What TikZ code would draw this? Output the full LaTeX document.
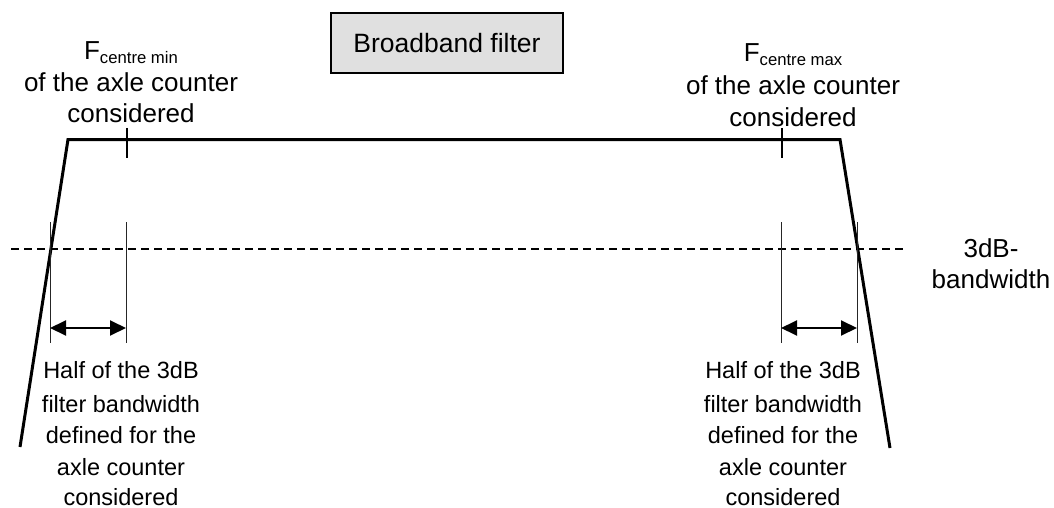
\documentclass[tikz,border=0pt]{standalone}
\usepackage{fontspec}
\setmainfont{Liberation Sans}
\usetikzlibrary{arrows.meta}
\begin{document}
\begin{tikzpicture}[x=1pt,y=-1pt,
  lbl/.style={inner sep=0pt,anchor=base,font=\fontsize{26}{31}\selectfont},
  sublbl/.style={inner sep=0pt,anchor=base,font=\fontsize{23.5}{32}\selectfont},
  curve/.style={line width=3pt,line join=miter},
  thin/.style={line width=0.9pt,black!85},
  tick/.style={line width=1.4pt},
  dim/.style={line width=2pt,{Triangle[length=16pt,width=15pt]}-{Triangle[length=16pt,width=15pt]}},
  ref/.style={line width=1.4pt,dash pattern=on 8pt off 5pt},
  boxstyle/.style={draw,line width=2pt,fill=black!12,minimum width=232pt,minimum height=60pt,inner sep=0pt,font=\fontsize{26.5}{31}\selectfont}
]
\useasboundingbox (0,0) rectangle (1054,508);

% title box
\node[boxstyle] (title) at (447,43) {Broadband filter};

% filter shape
\coordinate (bl) at (20,447);
\coordinate (tl) at (68,139.5);
\coordinate (tr) at (840,139.5);
\coordinate (br) at (890,448);
\draw[curve] (bl) -- (tl) -- (tr) -- (br);

% 3dB reference line
\coordinate (dl) at (11,249);
\coordinate (dr) at (903,249);
\draw[ref] (dl) -- (dr);

% ticks at centre frequencies
\coordinate (t1a) at (127,128); \coordinate (t1b) at (127,158);
\coordinate (t2a) at (782,128); \coordinate (t2b) at (782,158);
\draw[tick] (t1a) -- (t1b);
\draw[tick] (t2a) -- (t2b);

% extension lines
\coordinate (e1a) at (50,222); \coordinate (e1b) at (50,343);
\coordinate (e2a) at (126,222); \coordinate (e2b) at (126,343);
\coordinate (e3a) at (781,222); \coordinate (e3b) at (781,343);
\coordinate (e4a) at (857,222); \coordinate (e4b) at (857,343);
\draw[thin] (e1a) -- (e1b);
\draw[thin] (e2a) -- (e2b);
\draw[thin] (e3a) -- (e3b);
\draw[thin] (e4a) -- (e4b);

% dimension arrows
\coordinate (a1l) at (50,328); \coordinate (a1r) at (126,328);
\coordinate (a2l) at (781,328); \coordinate (a2r) at (857,328);
\draw[dim] (a1l) -- (a1r);
\draw[dim] (a2l) -- (a2r);

% top-left label
\node[lbl] (fminA) at (131,60) {F\raisebox{-4pt}{\fontsize{16.7}{18}\selectfont centre min}};
\node[lbl] (fminB) at (131,92) {of the axle counter};
\node[lbl] (fminC) at (131,123) {considered};

% top-right label
\node[lbl] (fmaxA) at (793,62) {F\raisebox{-4pt}{\fontsize{16.7}{18}\selectfont centre max}};
\node[lbl] (fmaxB) at (793,95) {of the axle counter};
\node[lbl] (fmaxC) at (793,127) {considered};

% 3dB bandwidth label
\node[lbl] (bwA) at (991,257) {3dB-};
\node[lbl] (bwB) at (991,288) {bandwidth};

% bottom-left label
\node[sublbl] (hlA) at (121,378) {Half of the 3dB};
\node[sublbl] (hlB) at (121,412) {filter bandwidth};
\node[sublbl] (hlC) at (121,443) {defined for the};
\node[sublbl] (hlD) at (121,475) {axle counter};
\node[sublbl] (hlE) at (121,505) {considered};

% bottom-right label
\node[sublbl] (hrA) at (783,378) {Half of the 3dB};
\node[sublbl] (hrB) at (783,412) {filter bandwidth};
\node[sublbl] (hrC) at (783,443) {defined for the};
\node[sublbl] (hrD) at (783,475) {axle counter};
\node[sublbl] (hrE) at (783,505) {considered};
\end{tikzpicture}
\end{document}
